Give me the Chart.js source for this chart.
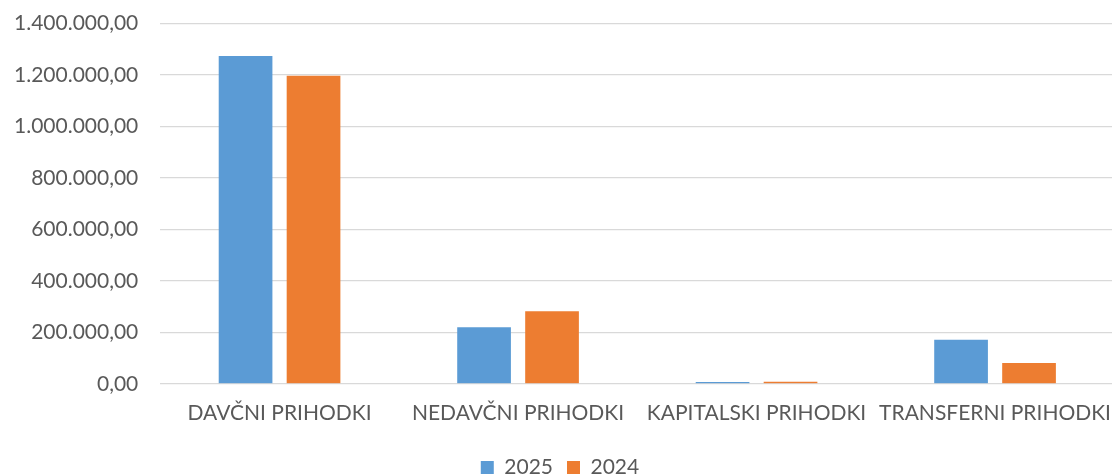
<!DOCTYPE html>
<html>
<head>
<meta charset="utf-8">
<script src="https://cdn.jsdelivr.net/npm/chart.js@4"></script>
<style>
  html, body { margin: 0; padding: 0; background: #fff; }
  #wrap { width: 1112px; height: 475px; overflow: hidden; position: relative; }
  #revChart { position: absolute; left: 0; top: -11px; }
</style>
</head>
<body>
<div id="wrap"><canvas id="revChart" width="1128" height="486"></canvas></div>
<script>
const categories = ['DAVČNI PRIHODKI', 'NEDAVČNI PRIHODKI', 'KAPITALSKI PRIHODKI', 'TRANSFERNI PRIHODKI'];
const values2025 = [1274000, 220000, 7000, 171000];
const values2024 = [1197000, 282000, 8000, 81000];
const seriesLabels = ['2025', '2024'];

function formatNum(v) {
    const parts = Number(v).toFixed(2).split('.');
    const intPart = parts[0].replace(/\B(?=(\d{3})+(?!\d))/g, '.');
    return intPart + ',' + parts[1];
}

document.addEventListener('DOMContentLoaded', function() {
    const ctx = document.getElementById('revChart').getContext('2d');
    Chart.defaults.font.family = 'Lato, "Open Sans", sans-serif';
    Chart.defaults.color = '#595959';

    new Chart(ctx, {
        type: 'bar',
        data: {
            labels: categories,
            datasets: [{
                label: seriesLabels[0],
                data: values2025,
                backgroundColor: '#5B9BD5',
                categoryPercentage: 0.57,
                barPercentage: 0.79
            }, {
                label: seriesLabels[1],
                data: values2024,
                backgroundColor: '#ED7D31',
                categoryPercentage: 0.57,
                barPercentage: 0.79
            }]
        },
        options: {
            responsive: false,
            animation: false,
            layout: {
                padding: { top: 0, right: 0, left: -8, bottom: -13 }
            },
            plugins: {
                legend: {
                    position: 'bottom',
                    labels: {
                        boxWidth: 13,
                        boxHeight: 13,
                        padding: 14,
                        font: { size: 21 }
                    }
                },
                tooltip: { enabled: false }
            },
            scales: {
                x: {
                    grid: { display: false, drawTicks: false },
                    border: { display: false },
                    ticks: {
                        font: { size: 21 },
                        padding: 17,
                        maxRotation: 0,
                        autoSkip: false
                    }
                },
                y: {
                    min: 0,
                    max: 1400000,
                    grid: { color: '#D9D9D9', lineWidth: 1.3, drawTicks: false },
                    border: { display: false },
                    ticks: {
                        stepSize: 200000,
                        padding: 22,
                        font: { size: 21 },
                        callback: function(v) { return formatNum(v); }
                    }
                }
            }
        }
    });
});
</script>
</body>
</html>
